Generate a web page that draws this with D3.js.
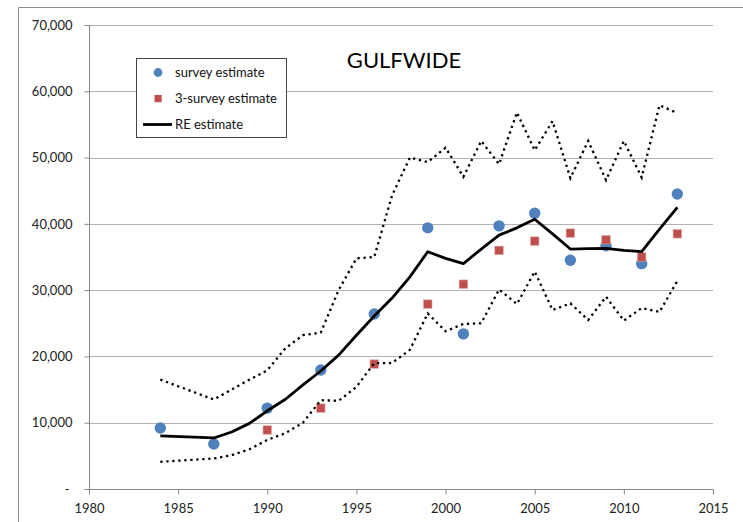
<!DOCTYPE html>
<html>
<head>
<meta charset="utf-8">
<script src="https://cdn.jsdelivr.net/npm/d3@7"></script>
<style>
	body { margin: 0; background: #fff; }
	svg { display: block; }
	.axis text { font-family: Lato, "Liberation Sans", sans-serif; font-size: 13px; fill: #222; }
	.axis path, .axis line { stroke: #868686; }
	.legend text { font-family: Lato, "Liberation Sans", sans-serif; font-size: 13px; fill: #111; }
</style>
</head>
<body>
<div id="chart"></div>
<script>
// survey points (every third/second year)
var surveyYears = [1984, 1987, 1990, 1993, 1996, 1999, 2001, 2003, 2005, 2007, 2009, 2011, 2013];
var surveyEst = [9200, 6800, 12200, 17950, 26400, 39400, 23400, 39700, 41600, 34500, 36700, 34000, 44500];

var threeYears = [1990, 1993, 1996, 1999, 2001, 2003, 2005, 2007, 2009, 2011, 2013];
var threeEst = [8900, 12200, 18850, 27900, 30900, 36000, 37400, 38600, 37600, 35000, 38500];

// RE model estimate and its bounds, yearly
var reYears = [1984, 1987, 1988, 1989, 1990, 1991, 1992, 1993, 1994, 1995, 1996, 1997, 1998,
	1999, 2000, 2001, 2002, 2003, 2004, 2005, 2006, 2007, 2008, 2009, 2010, 2011, 2012, 2013];
var reEst = [8000, 7700, 8600, 9900, 11800, 13500, 15700, 17800, 20200, 23200, 26100, 28800, 32000,
	35800, 34800, 34000, 36200, 38300, 39400, 40700, 38500, 36200, 36250, 36300, 36000, 35800, 39200, 42500];
var reUpper = [16500, 13500, 15000, 16500, 17900, 21200, 23200, 23600, 30000, 34800, 35000, 44300, 50000,
	49300, 51500, 47100, 52500, 49000, 56800, 51100, 55500, 46900, 52500, 46600, 52500, 47000, 57900, 56700];
var reLower = [4100, 4600, 5100, 6000, 7400, 8400, 10000, 13400, 13300, 15400, 19000, 19000, 21000,
	26500, 23800, 24900, 25000, 30100, 27900, 32800, 27000, 28000, 25500, 29000, 25400, 27300, 26700, 31400];

var yTicks = [0, 10000, 20000, 30000, 40000, 50000, 60000, 70000];
var xTicks = [1980, 1985, 1990, 1995, 2000, 2005, 2010, 2015];

var width = 743, height = 522;
var svg = d3.select("#chart").append("svg")
	.attr("width", width)
	.attr("height", height);

// outer chart frame (left and top edges visible)
svg.append("path")
	.attr("d", "M18.5,522 L18.5,7.5 L743,7.5")
	.attr("fill", "none")
	.attr("stroke", "#8c8c8c");

var x = d3.scaleLinear().domain([1980, 2015]).range([89, 713]);
var y = d3.scaleLinear().domain([0, 70000]).range([489, 25]);

// gridlines
svg.append("g").selectAll("line")
	.data(yTicks.filter(function(d) { return d > 0; })).enter()
	.append("line")
		.attr("x1", x(1980))
		.attr("x2", x(2015))
		.attr("y1", function(d) { return Math.round(y(d)) + 0.5; })
		.attr("y2", function(d) { return Math.round(y(d)) + 0.5; })
		.attr("stroke", "#b3b3b3")
		.attr("stroke-width", 1);

// axes
var yAxis = svg.append("g")
	.attr("class", "axis")
	.attr("transform", "translate(89.5,0)")
	.call(d3.axisLeft(y)
		.tickValues(yTicks)
		.tickSize(5)
		.tickPadding(12)
		.tickFormat(function(d) { return d === 0 ? "-" : d3.format(",")(d); }));
yAxis.select(".domain").attr("d", "M0," + y(70000) + "V" + y(0));
yAxis.selectAll(".tick text").filter(function(d) { return d === 0; }).attr("dx", "-3");

var xAxis = svg.append("g")
	.attr("class", "axis")
	.attr("transform", "translate(0," + (y(0) + 0.5) + ")")
	.call(d3.axisBottom(x)
		.tickValues(xTicks)
		.tickSize(5)
		.tickPadding(9)
		.tickFormat(d3.format("d")));
xAxis.select(".domain").attr("d", "M" + x(1980) + ",0H" + x(2015));

// markers: survey estimate
svg.append("g").selectAll("circle")
	.data(surveyYears).enter()
	.append("circle")
		.attr("cx", function(d) { return x(d); })
		.attr("cy", function(d, i) { return y(surveyEst[i]); })
		.attr("r", 5.7)
		.attr("fill", "#4f81bd");

// markers: 3-survey estimate
var sq = 8.5;
svg.append("g").selectAll("rect")
	.data(threeYears).enter()
	.append("rect")
		.attr("x", function(d) { return x(d) - sq / 2; })
		.attr("y", function(d, i) { return y(threeEst[i]) - sq / 2; })
		.attr("width", sq)
		.attr("height", sq)
		.attr("fill", "#c0504d")
		.attr("stroke", "#e3a9a7")
		.attr("stroke-width", 0.6);

// RE line and bounds
var line = function(vals) {
	return d3.line()
		.x(function(d) { return x(d); })
		.y(function(d, i) { return y(vals[i]); })(reYears);
};

svg.append("path")
	.attr("d", line(reEst))
	.attr("fill", "none")
	.attr("stroke", "#000")
	.attr("stroke-width", 2.8)
	.attr("stroke-linejoin", "round");

[reUpper, reLower].forEach(function(vals) {
	svg.append("path")
		.attr("d", line(vals))
		.attr("fill", "none")
		.attr("stroke", "#000")
		.attr("stroke-width", 2.3)
		.attr("stroke-dasharray", "2.3,3.7");
});

// title
svg.append("text")
	.attr("x", 404)
	.attr("y", 68)
	.attr("text-anchor", "middle")
	.style("font-family", "Lato, 'Liberation Sans', sans-serif")
	.style("font-size", "22px")
	.style("fill", "#000")
	.text("GULFWIDE");

// legend
var legend = svg.append("g").attr("class", "legend");
legend.append("rect")
	.attr("x", 136.5)
	.attr("y", 58.5)
	.attr("width", 150)
	.attr("height", 79)
	.attr("fill", "#fff")
	.attr("stroke", "#444");
legend.append("circle")
	.attr("cx", 158)
	.attr("cy", 72.5)
	.attr("r", 4.4)
	.attr("fill", "#4f81bd");
legend.append("rect")
	.attr("x", 154.5)
	.attr("y", 95)
	.attr("width", 7.2)
	.attr("height", 7.2)
	.attr("fill", "#c0504d");
legend.append("line")
	.attr("x1", 143)
	.attr("x2", 172)
	.attr("y1", 124.5)
	.attr("y2", 124.5)
	.attr("stroke", "#000")
	.attr("stroke-width", 2.8);
var legendNames = ["survey estimate", "3-survey estimate", "RE estimate"];
legend.selectAll("text")
	.data(legendNames).enter()
	.append("text")
		.attr("x", 175)
		.attr("y", function(d, i) { return 72.5 + i * 26; })
		.attr("dy", "0.35em")
		.text(function(d) { return d; });
</script>
</body>
</html>
